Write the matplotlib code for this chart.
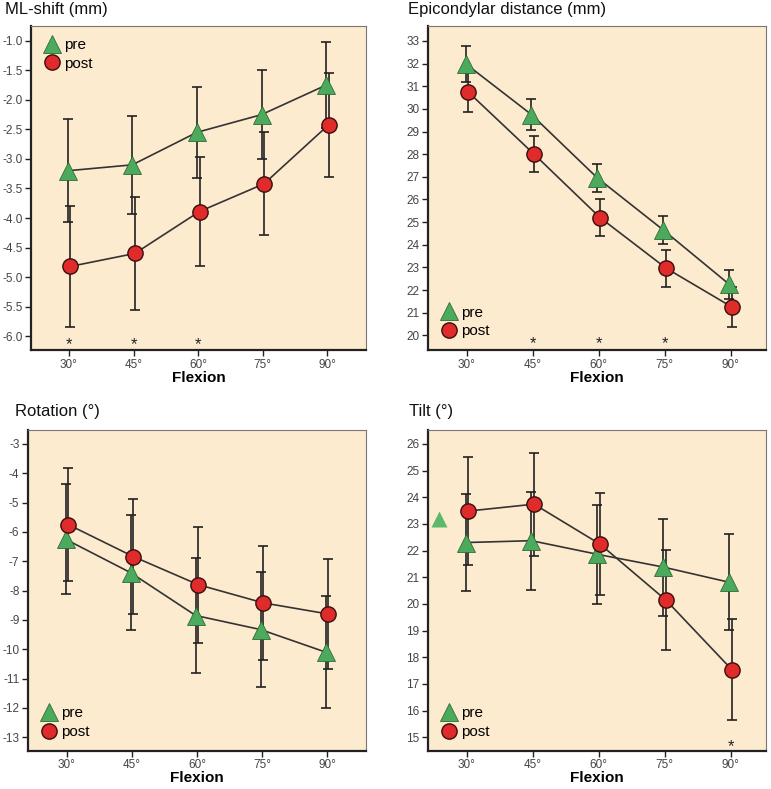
import numpy as np
import matplotlib
matplotlib.use("Agg")
import matplotlib.pyplot as plt

plt.rcParams['font.family'] = ['Liberation Sans', 'DejaVu Sans']

flexion = ['30°', '45°', '60°', '75°', '90°']

# ML-shift (mm)
ml_pre = [-3.2, -3.1, -2.55, -2.25, -1.75]
ml_pre_err = [0.87, 0.83, 0.77, 0.75, 0.73]
ml_post = [-4.82, -4.6, -3.89, -3.42, -2.42]
ml_post_err = [1.02, 0.95, 0.93, 0.87, 0.88]
ml_stars = [0, 1, 2]

# Epicondylar distance (mm)
epi_pre = [32.0, 29.75, 26.95, 24.65, 22.25]
epi_pre_err = [0.8, 0.68, 0.62, 0.62, 0.65]
epi_post = [30.75, 28.0, 25.2, 22.97, 21.25]
epi_post_err = [0.9, 0.8, 0.8, 0.82, 0.9]
epi_stars = [1, 2, 3]

# Rotation (°)
rot_pre = [-6.25, -7.39, -8.85, -9.33, -10.1]
rot_pre_err = [1.88, 1.95, 1.97, 1.97, 1.9]
rot_post = [-5.75, -6.84, -7.8, -8.42, -8.8]
rot_post_err = [1.94, 1.96, 1.97, 1.95, 1.88]
rot_stars = []

# Tilt (°)
tilt_pre = [22.3, 22.37, 21.86, 21.38, 20.81]
tilt_pre_err = [1.82, 1.84, 1.85, 1.82, 1.8]
tilt_post = [23.48, 23.74, 22.24, 20.14, 17.53]
tilt_post_err = [2.04, 1.93, 1.91, 1.88, 1.89]
tilt_stars = [4]

bg = '#fdebcf'
green = '#4caa5c'
red = '#e02b2b'
line_col = '#333333'

fig = plt.figure(figsize=(7.71, 7.89), dpi=100)

panels = [
    dict(rect=[0.040, 0.556, 0.435, 0.411], title='ML-shift (mm)', tx=0.006, ty=0.988,
         pre=ml_pre, pre_err=ml_pre_err, post=ml_post, post_err=ml_post_err,
         stars=ml_stars, star_y=-6.14, ylim=(-6.24, -0.75),
         yticks=np.arange(-6.0, -0.9, 0.5), fmt='{:.1f}', leg='upper left',
         xlim=(-0.59, 4.6)),
    dict(rect=[0.555, 0.556, 0.438, 0.411], title='Epicondylar distance (mm)', tx=0.529, ty=0.988,
         pre=epi_pre, pre_err=epi_pre_err, post=epi_post, post_err=epi_post_err,
         stars=epi_stars, star_y=19.62, ylim=(19.34, 33.66),
         yticks=np.arange(20, 34, 1), fmt='{:.0f}', leg='lower left',
         xlim=(-0.59, 4.53)),
    dict(rect=[0.036, 0.048, 0.439, 0.407], title='Rotation (°)', tx=0.019, ty=0.478,
         pre=rot_pre, pre_err=rot_pre_err, post=rot_post, post_err=rot_post_err,
         stars=rot_stars, star_y=-13.2, ylim=(-13.47, -2.53),
         yticks=np.arange(-13, -2, 1), fmt='{:.0f}', leg='lower left',
         xlim=(-0.6, 4.6)),
    dict(rect=[0.555, 0.048, 0.438, 0.407], title='Tilt (°)', tx=0.531, ty=0.478,
         pre=tilt_pre, pre_err=tilt_pre_err, post=tilt_post, post_err=tilt_post_err,
         stars=tilt_stars, star_y=14.66, ylim=(14.48, 26.52),
         yticks=np.arange(15, 27, 1), fmt='{:.0f}', leg='lower left',
         xlim=(-0.59, 4.53)),
]

x = np.arange(len(flexion))

for i, p in enumerate(panels):
    ax = fig.add_axes(p['rect'])
    ax.set_facecolor(bg)
    ax.errorbar(x - 0.02, p['pre'], yerr=p['pre_err'], fmt='none', ecolor='#222222',
                elinewidth=1.2, capsize=3.5, capthick=1.2, zorder=2)
    ax.errorbar(x + 0.02, p['post'], yerr=p['post_err'], fmt='none', ecolor='#222222',
                elinewidth=1.2, capsize=3.5, capthick=1.2, zorder=2)
    ax.plot(x - 0.02, p['pre'], color=line_col, lw=1.2, marker='^', ms=13,
            mfc=green, mec='#2f6b38', mew=0.6, label='pre', zorder=3)
    ax.plot(x + 0.02, p['post'], color=line_col, lw=1.2, marker='o', ms=11,
            mfc=red, mec='#3a0d0d', mew=1.0, label='post', zorder=4)
    for s in p['stars']:
        ax.text(x[s], p['star_y'], '*', ha='center', va='center', fontsize=12, color='#222222')
    if i == 3:
        # stray marker in the original figure
        ax.plot([-0.42], [23.19], marker='^', ms=11, mfc='#5cb86a', mec='none', ls='none')

    ax.set_xlim(*p['xlim'])
    ax.set_ylim(*p['ylim'])
    ax.set_xticks(x)
    ax.set_xticklabels(flexion)
    ax.set_yticks(p['yticks'])
    ax.set_yticklabels([p['fmt'].format(v) for v in p['yticks']])
    ax.tick_params(axis='both', labelsize=8.5, colors='#222222', labelcolor='#444444',
                   length=4, width=1.0, pad=2)
    for side in ['left', 'bottom']:
        ax.spines[side].set_linewidth(1.6)
        ax.spines[side].set_color('#222222')
    for side in ['top', 'right']:
        ax.spines[side].set_linewidth(0.8)
        ax.spines[side].set_color('#777777')
    ax.set_xlabel('Flexion', fontsize=11, fontweight='bold', labelpad=0)

    leg = ax.legend(loc=p['leg'], frameon=False, fontsize=11, handlelength=1.2,
                    handletextpad=0.2, labelspacing=0.3, borderaxespad=0.4)
    for h in leg.legend_handles:
        h.set_linestyle('none')

    fig.text(p['tx'], p['ty'], p['title'], fontsize=12, ha='left', va='center', color='#111111')

fig.savefig('out.png', dpi=100, facecolor='white')
